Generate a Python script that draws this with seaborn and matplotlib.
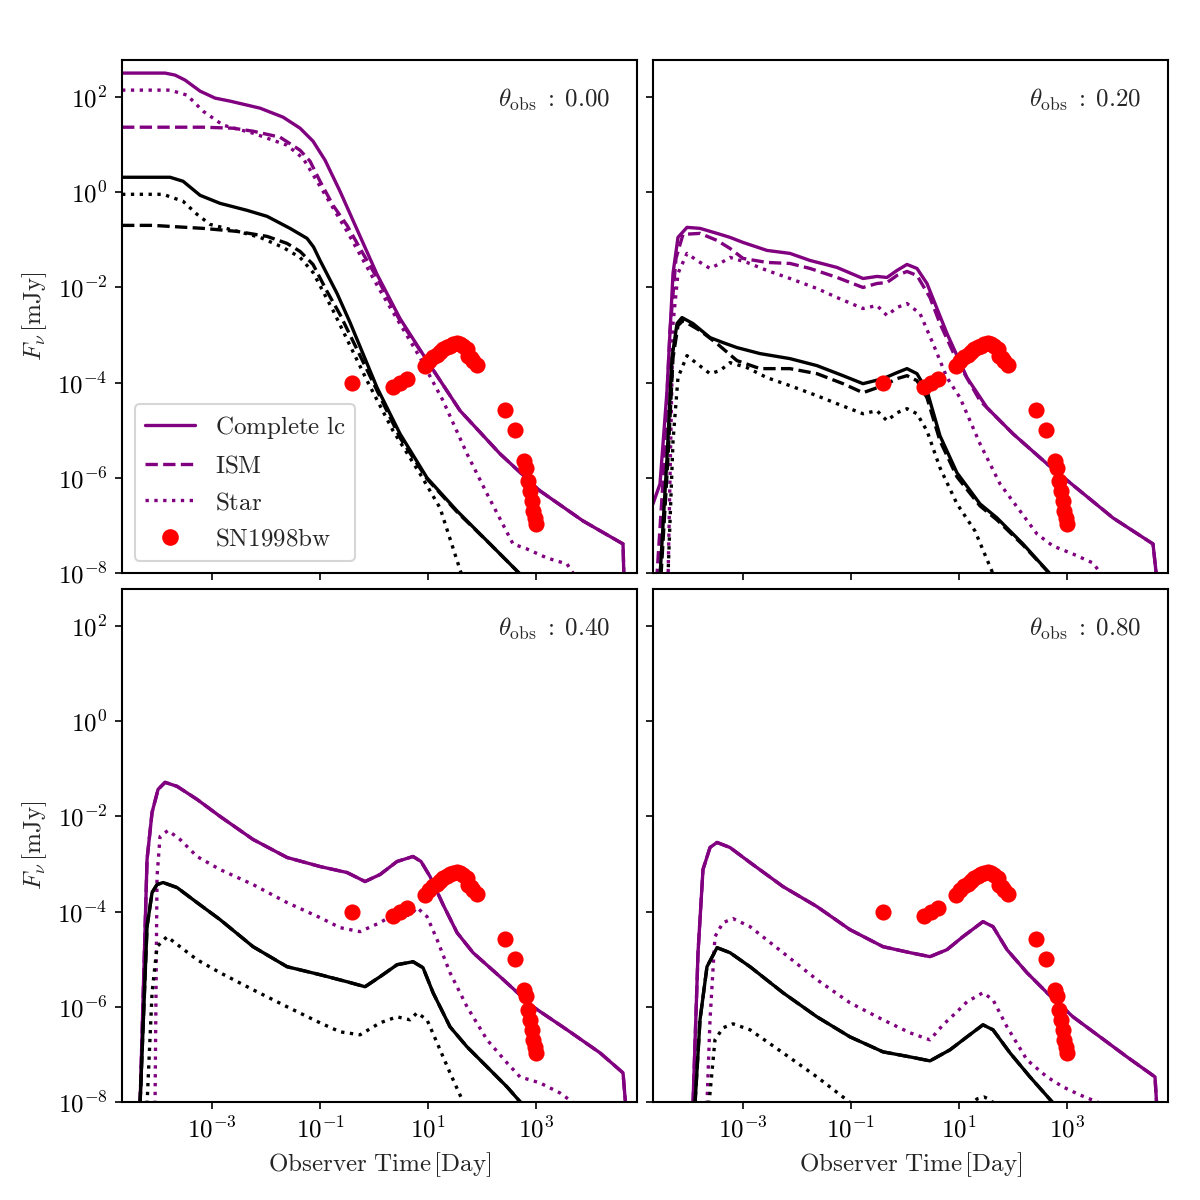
import numpy as np
import pandas as pd
import seaborn as sns
import matplotlib.pyplot as plt
from matplotlib.lines import Line2D
from matplotlib.ticker import FixedLocator, NullLocator, FuncFormatter

sns.set_style("ticks")
plt.rcParams.update({
    "mathtext.fontset": "cm",
    "axes.edgecolor": "black",
    "xtick.color": "black",
    "ytick.color": "black",
    "axes.linewidth": 1.0,
})

# all values are log10(time / day) and log10(flux / mJy)
angles = [0.00, 0.20, 0.40, 0.80]

# SN1998bw radio data
sn_logt = [-0.413, 0.357, 0.481, 0.606, 0.944, 1.02, 1.098, 1.16, 1.222, 1.285, 1.346, 1.41,
           1.469, 1.53, 1.593, 1.655, 1.716, 1.747, 1.79, 1.839, 1.901, 2.426, 2.611, 2.778,
           2.815, 2.858, 2.889, 2.920, 2.950, 2.981, 3.0]
sn_logf = [-4.015, -4.099, -4.015, -3.922, -3.642, -3.55, -3.467, -3.41, -3.362, -3.30, -3.257,
           -3.22, -3.185, -3.17, -3.185, -3.23, -3.291, -3.432, -3.48, -3.537, -3.621, -4.575,
           -4.996, -5.642, -5.783, -6.063, -6.274, -6.484, -6.695, -6.836, -6.975]

# theta_obs = 0.00 (purple = complete / ism / star, b* = black band)
tot00_t = [-4.667, -3.870, -3.685, -3.5, -3.222, -2.944, -2.667, -2.111, -1.685, -1.370, -1.130,
           -0.907, -0.630, 0.056, 0.481, 0.981, 1.593, 2.333, 3.074, 3.870, 4.611, 4.648]
tot00_f = [2.505, 2.505, 2.463, 2.358, 2.126, 1.979, 1.916, 1.768, 1.579, 1.347, 1.074, 0.674,
           0.021, -1.726, -2.653, -3.537, -4.589, -5.495, -6.274, -6.905, -7.389, -9.0]
ism00_t = [-4.667, -3.167, -2.611, -2.241, -1.741, -1.370, -1.185, -1.0, -0.759, -0.5, -0.259,
           0.056, 0.481, 0.981, 1.593, 2.333, 3.074, 3.870, 4.611, 4.648]
ism00_f = [1.368, 1.368, 1.347, 1.284, 1.158, 0.884, 0.653, 0.232, -0.274, -0.695, -1.179,
           -1.80, -2.70, -3.537, -4.589, -5.495, -6.274, -6.905, -7.389, -9.0]
star00_t = [-4.667, -3.778, -3.463, -3.167, -2.796, -2.241, -1.611, -1.315, -0.944, -0.5, 0.111,
            0.852, 1.278, 1.722, 2.093, 2.574, 2.833, 3.204, 3.574, 3.722]
star00_f = [2.147, 2.147, 2.042, 1.705, 1.411, 1.242, 0.989, 0.716, 0.021, -0.821, -2.063,
            -3.474, -4.379, -5.495, -6.337, -7.389, -7.495, -7.684, -7.811, -8.063]
btot00_t = [-4.667, -3.778, -3.537, -3.222, -2.852, -2.352, -1.981, -1.556, -1.241, -1.12, -1.0,
            -0.685, -0.444, 0.056, 0.481, 0.981, 1.537, 2.148, 2.741]
btot00_f = [0.316, 0.316, 0.232, -0.063, -0.232, -0.379, -0.505, -0.758, -0.968, -1.15, -1.432,
            -2.126, -2.737, -4.105, -5.074, -6.0, -6.695, -7.389, -8.063]
bism00_t = [-4.667, -4.093, -3.167, -2.537, -1.981, -1.611, -1.370, -1.130, -0.870, -0.630,
            -0.259, 0.056, 0.481, 0.981, 1.537, 2.148, 2.741]
bism00_f = [-0.695, -0.695, -0.758, -0.821, -0.926, -1.074, -1.242, -1.516, -2.084, -2.568,
            -3.432, -4.168, -5.158, -6.021, -6.716, -7.389, -8.063]
bstar00_t = [-4.667, -3.907, -3.537, -3.278, -3.037, -2.667, -2.111, -1.685, -1.370, -1.130,
             -0.759, -0.130, 0.352, 0.852, 1.222, 1.630]
bstar00_f = [-0.042, -0.042, -0.189, -0.463, -0.674, -0.779, -0.947, -1.158, -1.368, -1.684,
             -2.484, -3.958, -5.011, -5.916, -6.632, -8.063]

# theta_obs = 0.20
tot20_t = [-4.667, -4.537, -4.407, -4.296, -4.204, -4.037, -3.796, -3.481, -3.241, -3.0, -2.556,
           -2.130, -1.759, -1.259, -0.778, -0.519, -0.333, -0.148, 0.037, 0.222, 0.407, 0.778,
           1.148, 1.519, 2.0, 2.630, 3.241, 3.852, 4.593, 4.667]
tot20_f = [-6.547, -6.126, -4.168, -1.705, -0.947, -0.737, -0.758, -0.863, -0.947, -1.053, -1.221,
           -1.284, -1.432, -1.579, -1.811, -1.768, -1.789, -1.642, -1.516, -1.6, -1.916, -2.968,
           -3.895, -4.526, -5.074, -5.705, -6.274, -6.842, -7.389, -8.168]
ism20_t = [-4.600, -4.481, -4.352, -4.241, -4.111, -3.796, -3.481, -3.241, -3.0, -2.556, -2.130,
           -1.759, -1.259, -0.778, -0.519, -0.333, -0.148, 0.037, 0.222, 0.463, 0.648, 0.963,
           1.389, 2.0, 2.630, 3.241, 3.852, 4.593, 4.667]
ism20_f = [-8.168, -6.063, -2.905, -1.389, -0.884, -0.863, -1.011, -1.179, -1.389, -1.474, -1.495,
           -1.6, -1.789, -2.0, -1.916, -1.895, -1.747, -1.663, -1.747, -2.211, -2.758, -3.537,
           -4.379, -5.074, -5.705, -6.274, -6.842, -7.389, -8.168]
star20_t = [-4.389, -4.296, -4.204, -4.037, -3.852, -3.611, -3.426, -3.241, -2.926, -2.556,
            -2.130, -1.630, -1.259, -0.778, -0.519, -0.333, -0.148, 0.037, 0.278, 0.519, 0.778,
            1.019, 1.389, 1.759, 2.130, 2.444, 2.741, 3.111, 3.481, 3.704]
star20_f = [-8.168, -2.758, -1.705, -1.284, -1.432, -1.6, -1.495, -1.368, -1.474, -1.642, -1.811,
            -2.021, -2.211, -2.442, -2.379, -2.589, -2.421, -2.337, -2.547, -3.179, -3.895,
            -4.316, -5.284, -6.126, -6.695, -7.179, -7.432, -7.6, -7.789, -8.126]
btot20_t = [-4.537, -4.407, -4.315, -4.222, -4.130, -3.926, -3.611, -3.370, -3.111, -2.685,
            -2.130, -1.630, -1.148, -0.778, -0.407, -0.148, 0.037, 0.222, 0.407, 0.648, 0.963,
            1.389, 1.704, 2.185, 2.722]
btot20_f = [-8.063, -5.579, -3.474, -2.758, -2.632, -2.758, -3.053, -3.158, -3.263, -3.389,
            -3.495, -3.642, -3.853, -4.021, -3.916, -3.789, -3.705, -3.811, -4.168, -5.116,
            -5.895, -6.547, -6.842, -7.389, -8.063]
bism20_t = [-4.519, -4.389, -4.296, -4.204, -4.111, -3.796, -3.481, -3.111, -2.685, -2.130,
            -1.630, -1.148, -0.778, -0.407, -0.148, 0.037, 0.222, 0.407, 0.648, 0.963, 1.389,
            1.704, 2.185, 2.722]
bism20_f = [-8.063, -5.579, -3.474, -2.8, -2.695, -2.905, -3.179, -3.537, -3.705, -3.705, -3.811,
            -4.021, -4.211, -4.063, -3.916, -3.853, -3.958, -4.316, -5.221, -5.979, -6.589,
            -6.884, -7.411, -8.063]
bstar20_t = [-4.389, -4.296, -4.204, -4.037, -3.852, -3.611, -3.426, -3.241, -2.926, -2.556,
             -2.130, -1.630, -1.259, -0.778, -0.519, -0.333, -0.148, 0.037, 0.222, 0.407, 0.648,
             0.963, 1.296, 1.648]
bstar20_f = [-8.063, -5.221, -3.895, -3.432, -3.6, -3.811, -3.747, -3.579, -3.684, -3.895,
             -4.063, -4.274, -4.442, -4.653, -4.589, -4.8, -4.632, -4.547, -4.653, -5.011,
             -5.789, -6.547, -7.116, -8.063]

# theta_obs = 0.40 (ISM lies on top of the complete curve)
tot40_t = [-4.333, -4.204, -4.111, -4.0, -3.870, -3.648, -3.278, -2.852, -2.241, -1.611, -1.0,
           -0.5, -0.167, 0.111, 0.426, 0.722, 0.870, 1.037, 1.278, 1.537, 1.833, 2.333, 2.944,
           3.574, 4.185, 4.611, 4.667]
tot40_f = [-8.042, -2.905, -1.916, -1.432, -1.284, -1.368, -1.642, -2.0, -2.484, -2.863, -3.053,
           -3.179, -3.368, -3.221, -2.947, -2.842, -2.947, -3.263, -3.853, -4.442, -4.863, -5.368,
           -6.0, -6.484, -6.968, -7.389, -8.168]
ism40_t = tot40_t
ism40_f = tot40_f
star40_t = [-4.056, -4.019, -3.963, -3.815, -3.593, -3.278, -2.852, -2.241, -1.611, -1.0, -0.630,
            -0.259, 0.111, 0.426, 0.667, 0.796, 0.981, 1.167, 1.407, 1.722, 2.093, 2.463, 2.704,
            3.074, 3.444, 3.722]
star40_f = [-8.042, -3.263, -2.421, -2.295, -2.484, -2.842, -3.116, -3.432, -3.811, -4.126,
            -4.337, -4.421, -4.232, -4.021, -4.084, -3.916, -4.105, -4.589, -5.284, -6.0, -6.695,
            -7.179, -7.474, -7.6, -7.811, -8.042]
btot40_t = [-4.333, -4.204, -4.111, -4.019, -3.907, -3.648, -3.278, -2.852, -2.241, -1.611, -1.0,
            -0.5, -0.167, 0.111, 0.426, 0.722, 0.907, 1.093, 1.407, 1.722, 2.093, 2.463, 2.741]
btot40_f = [-8.042, -4.316, -3.6, -3.432, -3.389, -3.495, -3.811, -4.168, -4.737, -5.158, -5.326,
            -5.474, -5.579, -5.368, -5.116, -5.053, -5.179, -5.705, -6.421, -6.842, -7.263,
            -7.684, -8.042]
bism40_t = btot40_t
bism40_f = btot40_f
bstar40_t = [-4.204, -4.111, -4.019, -3.833, -3.593, -3.278, -2.852, -2.241, -1.611, -1.0, -0.630,
             -0.259, 0.111, 0.426, 0.667, 0.796, 0.981, 1.167, 1.407, 1.667]
bstar40_f = [-8.042, -5.705, -4.737, -4.526, -4.737, -5.011, -5.284, -5.642, -6.0, -6.337,
             -6.526, -6.589, -6.337, -6.211, -6.274, -6.126, -6.274, -6.758, -7.389, -8.042]

# theta_obs = 0.80
tot80_t = [-3.926, -3.833, -3.741, -3.611, -3.481, -3.241, -2.870, -2.259, -1.630, -1.019, -0.407,
           0.093, 0.463, 0.778, 1.074, 1.444, 1.630, 1.889, 2.259, 2.630, 3.111, 3.611, 4.111,
           4.630, 4.667]
tot80_f = [-8.042, -4.863, -3.116, -2.653, -2.547, -2.653, -2.968, -3.474, -3.895, -4.379, -4.737,
           -4.863, -4.947, -4.8, -4.526, -4.211, -4.316, -4.8, -5.284, -5.705, -6.211, -6.632,
           -7.053, -7.474, -8.168]
ism80_t = tot80_t
ism80_f = tot80_f
star80_t = [-3.667, -3.611, -3.519, -3.370, -3.185, -2.870, -2.259, -1.630, -1.019, -0.407, 0.093,
            0.463, 0.704, 0.963, 1.148, 1.444, 1.630, 1.889, 2.259, 2.630, 2.926, 3.241, 3.648]
star80_f = [-8.042, -6.274, -4.526, -4.232, -4.147, -4.316, -4.863, -5.432, -5.916, -6.274,
            -6.547, -6.695, -6.379, -6.105, -5.895, -5.705, -5.853, -6.421, -7.116, -7.474,
            -7.684, -7.853, -8.042]
btot80_t = [-3.889, -3.796, -3.667, -3.481, -3.241, -2.870, -2.259, -1.630, -1.019, -0.407, 0.093,
            0.463, 0.833, 1.148, 1.444, 1.630, 1.944, 2.315, 2.759]
btot80_f = [-8.042, -6.274, -5.158, -4.758, -4.863, -5.158, -5.705, -6.211, -6.632, -6.947,
            -7.053, -7.137, -6.905, -6.632, -6.379, -6.484, -6.968, -7.474, -8.042]
bism80_t = btot80_t
bism80_f = btot80_f
bstar80_t = [-3.630, -3.519, -3.370, -3.185, -2.870, -2.259, -1.630, -0.981, -0.093, 1.204, 1.333,
             1.463, 1.593, 1.667]
bstar80_f = [-8.042, -6.695, -6.442, -6.358, -6.484, -6.968, -7.474, -8.042, -8.6, -8.084, -7.937,
             -7.895, -7.958, -8.084]

panels = [
    [(tot00_t, tot00_f), (ism00_t, ism00_f), (star00_t, star00_f),
     (btot00_t, btot00_f), (bism00_t, bism00_f), (bstar00_t, bstar00_f)],
    [(tot20_t, tot20_f), (ism20_t, ism20_f), (star20_t, star20_f),
     (btot20_t, btot20_f), (bism20_t, bism20_f), (bstar20_t, bstar20_f)],
    [(tot40_t, tot40_f), (ism40_t, ism40_f), (star40_t, star40_f),
     (btot40_t, btot40_f), (bism40_t, bism40_f), (bstar40_t, bstar40_f)],
    [(tot80_t, tot80_f), (ism80_t, ism80_f), (star80_t, star80_f),
     (btot80_t, btot80_f), (bism80_t, bism80_f), (bstar80_t, bstar80_f)],
]
colors = ["purple", "purple", "purple", "black", "black", "black"]
styles = ["-", "--", ":", "-", "--", ":"]

sn = pd.DataFrame({"t": 10 ** np.array(sn_logt), "f": 10 ** np.array(sn_logf)})

# log tick labels in computer modern
cm_pow = FuncFormatter(lambda v, pos: r"$10^{%d}$" % round(np.log10(v)))

fig, axes = plt.subplots(2, 2, figsize=(8, 8), dpi=150, sharex=True, sharey=True)
fig.subplots_adjust(left=0.1017, right=0.9733, bottom=0.0817, top=0.95,
                    wspace=0.031, hspace=0.031)

for ax, angle, curves in zip(axes.flat, angles, panels):
    for (lt, lf), c, ls in zip(curves, colors, styles):
        df = pd.DataFrame({"t": 10 ** np.array(lt), "f": 10 ** np.array(lf)})
        sns.lineplot(data=df, x="t", y="f", color=c, linestyle=ls, lw=1.6,
                     sort=False, estimator=None, legend=False, ax=ax)
    sns.scatterplot(data=sn, x="t", y="f", color="red", s=60, linewidth=0,
                    zorder=5, legend=False, ax=ax)
    ax.set_xscale("log")
    ax.set_yscale("log")
    ax.set_xlim(10 ** -4.667, 10 ** 4.87)
    ax.set_ylim(1e-8, 10 ** 2.78)
    ax.xaxis.set_major_locator(FixedLocator([1e-3, 1e-1, 1e1, 1e3]))
    ax.yaxis.set_major_locator(FixedLocator([1e-8, 1e-6, 1e-4, 1e-2, 1e0, 1e2]))
    ax.xaxis.set_minor_locator(NullLocator())
    ax.yaxis.set_minor_locator(NullLocator())
    ax.xaxis.set_major_formatter(cm_pow)
    ax.yaxis.set_major_formatter(cm_pow)
    ax.tick_params(labelsize=12)
    ax.set_xlabel("")
    ax.set_ylabel("")
    ax.text(0.948, 0.922, r"$\theta_{\rm obs}\;:\;%.2f$" % angle, transform=ax.transAxes,
            ha="right", va="center", fontsize=12)

for ax in axes[:, 0]:
    ax.set_ylabel(r"$F_{\nu}\,[\mathrm{mJy}]$", fontsize=12)
for ax in axes[1, :]:
    ax.set_xlabel(r"$\mathrm{Observer\ Time}\,[\mathrm{Day}]$", fontsize=12)

handles = [
    Line2D([], [], color="purple", ls="-", lw=1.6),
    Line2D([], [], color="purple", ls="--", lw=1.6),
    Line2D([], [], color="purple", ls=":", lw=1.6),
    Line2D([], [], color="red", ls="", marker="o", markersize=8, markeredgewidth=0),
]
labels = [r"$\mathrm{Complete\ lc}$", r"$\mathrm{ISM}$", r"$\mathrm{Star}$", r"$\mathrm{SN1998bw}$"]
axes[0, 0].legend(handles, labels, loc="lower left", fontsize=12, frameon=True)

fig.savefig("out.png", dpi=150)
